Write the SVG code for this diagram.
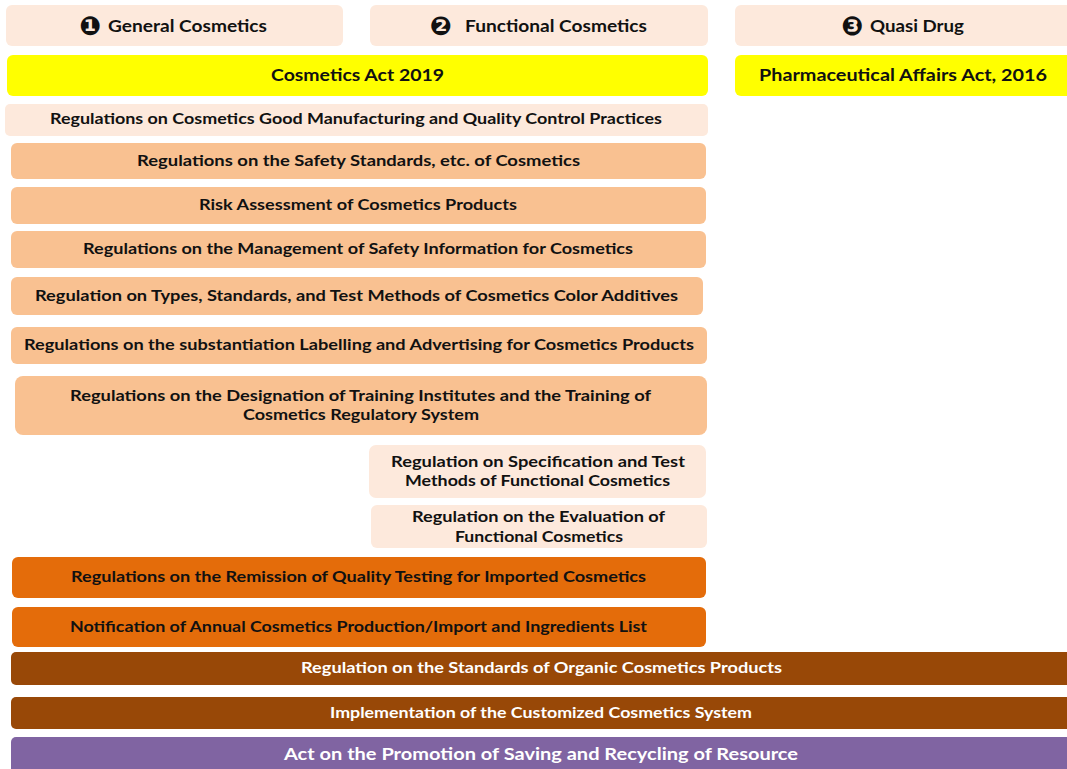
<svg xmlns="http://www.w3.org/2000/svg" width="1067" height="769" viewBox="0 0 1067 769">
<style>
text{font-family:"Lato","Noto Sans","DejaVu Sans",sans-serif;font-weight:700;font-size:15px;fill:#111;text-anchor:middle}
.hd{font-size:17px}
.w{fill:#fff}
.big{font-size:17px}
.num{font-family:"DejaVu Sans",sans-serif;font-size:26px}
.pale{fill:#FDE9DC}
.yel{fill:#FFFF00}
.peach{fill:#F9C191}
.org{fill:#E46C0A}
.brn{fill:#984807}
.pur{fill:#8064A2}
</style>
<rect width="1067" height="769" fill="#fff"/>
<g id="connectors"></g>
<g id="h1"><rect class="pale" x="6" y="5" width="337" height="41" rx="6"/><text class="num" x="90.5" y="34.5">❶</text><text class="hd" x="187.5" y="31.5" textLength="159" lengthAdjust="spacingAndGlyphs">General Cosmetics</text></g>
<g id="h2"><rect class="pale" x="370" y="5" width="338" height="41" rx="6"/><text class="num" x="440.5" y="34.5">❷</text><text class="hd" x="556" y="31.5" textLength="182" lengthAdjust="spacingAndGlyphs">Functional Cosmetics</text></g>
<g id="h3"><rect class="pale" x="735" y="5" width="340" height="41" rx="6"/><text class="num" x="852.5" y="34.5">❸</text><text class="hd" x="917" y="31.5" textLength="94" lengthAdjust="spacingAndGlyphs">Quasi Drug</text></g>
<g id="act2019"><rect class="yel" x="7" y="55" width="701" height="41" rx="6"/><text class="hd" x="357.5" y="81" textLength="173" lengthAdjust="spacingAndGlyphs">Cosmetics Act 2019</text></g>
<g id="act2016"><rect class="yel" x="735" y="55" width="340" height="41" rx="6"/><text class="hd" x="903" y="81" textLength="288" lengthAdjust="spacingAndGlyphs">Pharmaceutical Affairs Act, 2016</text></g>
<g id="gmp"><rect class="pale" x="5" y="104" width="703" height="32" rx="5"/><text x="356" y="123.5" textLength="612" lengthAdjust="spacingAndGlyphs">Regulations on Cosmetics Good Manufacturing and Quality Control Practices</text></g>
<g id="safety"><rect class="peach" x="11" y="143" width="695" height="36" rx="6"/><text x="358.5" y="166" textLength="443" lengthAdjust="spacingAndGlyphs">Regulations on the Safety Standards, etc. of Cosmetics</text></g>
<g id="risk"><rect class="peach" x="11" y="187" width="695" height="37" rx="6"/><text x="358" y="210" textLength="318" lengthAdjust="spacingAndGlyphs">Risk Assessment of Cosmetics Products</text></g>
<g id="safetyinfo"><rect class="peach" x="11" y="231" width="695" height="37" rx="6"/><text x="358" y="254" textLength="550" lengthAdjust="spacingAndGlyphs">Regulations on the Management of Safety Information for Cosmetics</text></g>
<g id="color"><rect class="peach" x="11" y="277" width="692" height="38" rx="6"/><text x="356.5" y="301" textLength="643" lengthAdjust="spacingAndGlyphs">Regulation on Types, Standards, and Test Methods of Cosmetics Color Additives</text></g>
<g id="labelling"><rect class="peach" x="11" y="327" width="696" height="37" rx="6"/><text x="359" y="350" textLength="670" lengthAdjust="spacingAndGlyphs">Regulations on the substantiation Labelling and Advertising for Cosmetics Products</text></g>
<g id="training"><rect class="peach" x="15" y="376" width="692" height="59" rx="8"/><text x="360.5" y="401" textLength="581" lengthAdjust="spacingAndGlyphs">Regulations on the Designation of Training Institutes and the Training of</text><text x="361" y="420" textLength="236" lengthAdjust="spacingAndGlyphs">Cosmetics Regulatory System</text></g>
<g id="spec"><rect class="pale" x="369" y="445" width="337" height="53" rx="7"/><text x="538" y="467" textLength="294" lengthAdjust="spacingAndGlyphs">Regulation on Specification and Test</text><text x="537.5" y="486" textLength="265" lengthAdjust="spacingAndGlyphs">Methods of Functional Cosmetics</text></g>
<g id="eval"><rect class="pale" x="371" y="505" width="336" height="43" rx="6"/><text x="538.5" y="522" textLength="253" lengthAdjust="spacingAndGlyphs">Regulation on the Evaluation of</text><text x="539" y="541.5" textLength="168" lengthAdjust="spacingAndGlyphs">Functional Cosmetics</text></g>
<g id="remission"><rect class="org" x="12" y="557" width="694" height="41" rx="6"/><text x="358.5" y="582" textLength="575" lengthAdjust="spacingAndGlyphs">Regulations on the Remission of Quality Testing for Imported Cosmetics</text></g>
<g id="notification"><rect class="org" x="12" y="607" width="694" height="40" rx="6"/><text x="358.5" y="632" textLength="577" lengthAdjust="spacingAndGlyphs">Notification of Annual Cosmetics Production/Import and Ingredients List</text></g>
<g id="organic"><rect class="brn" x="11" y="652" width="1066" height="33" rx="5"/><text class="w" x="541.5" y="673" textLength="481" lengthAdjust="spacingAndGlyphs">Regulation on the Standards of Organic Cosmetics Products</text></g>
<g id="customized"><rect class="brn" x="11" y="697" width="1066" height="32" rx="5"/><text class="w" x="541" y="718" textLength="422" lengthAdjust="spacingAndGlyphs">Implementation of the Customized Cosmetics System</text></g>
<g id="recycling"><rect class="pur" x="11" y="737" width="1066" height="40" rx="5"/><text class="w big" x="541" y="759.5" textLength="514" lengthAdjust="spacingAndGlyphs">Act on the Promotion of Saving and Recycling of Resource</text></g>
</svg>
